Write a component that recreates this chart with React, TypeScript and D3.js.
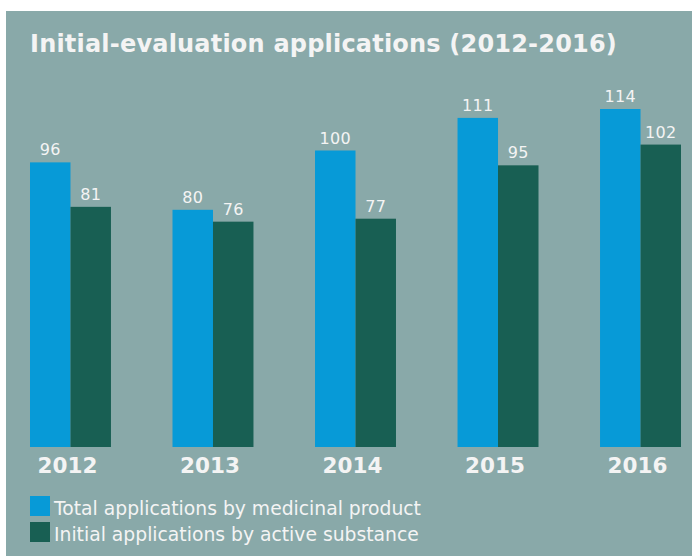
import React from "react";
import * as d3 from "d3";

const years = ["2012", "2013", "2014", "2015", "2016"];
const totalByProduct = [96, 80, 100, 111, 114];
const initialBySubstance = [81, 76, 77, 95, 102];
const seriesNames = ["Total applications by medicinal product", "Initial applications by active substance"];
const title = "Initial-evaluation applications (2012-2016)";

const W = 692;
const H = 558;
const BG = "#89a9a9";
const BLUE = "#079ad7";
const GREEN = "#185f53";
const TEXT = "#f4f4f4";
const FONT = "'DejaVu Sans', Verdana, sans-serif";

export default function App() {
  const x0 = d3.scaleBand<string>().domain(years).range([30, 681]).paddingInner(61.5 / 142.4).paddingOuter(0);
  const x1 = d3.scaleBand<string>().domain(["a", "b"]).range([0, x0.bandwidth()]);
  const y = d3.scaleLinear().domain([0, 114]).range([447, 109]);
  const series = [
    { key: "a", values: totalByProduct, color: BLUE },
    { key: "b", values: initialBySubstance, color: GREEN },
  ];
  return (
    <svg width={W} height={H} style={{ position: "absolute", left: 0, top: 0 }}>
      <rect x={6} y={11} width={W - 6} height={545} fill={BG} />
      <text x={30} y={52} fill={TEXT} fontFamily={FONT} fontWeight="bold" fontSize={24} letterSpacing={0.2}>{title}</text>
      {years.map((yr, i) => (
        <g key={yr} transform={`translate(${x0(yr)},0)`}>
          {series.map((s) => (
            <g key={s.key}>
              <rect x={x1(s.key)} y={y(s.values[i])} width={x1.bandwidth()} height={y(0) - y(s.values[i])} fill={s.color} />
              <text x={(x1(s.key) as number) + x1.bandwidth() / 2} y={y(s.values[i]) - 7} textAnchor="middle" fill={TEXT} fontFamily={FONT} fontSize={16} letterSpacing={0.4}>{s.values[i]}</text>
            </g>
          ))}
          <text x={x0.bandwidth() / 2 - 3} y={473} textAnchor="middle" fill={TEXT} fontFamily={FONT} fontWeight="bold" fontSize={21.5}>{yr}</text>
        </g>
      ))}
      {seriesNames.map((n, i) => (
        <g key={n} transform={`translate(30,${496 + i * 26})`}>
          <rect x={0} y={0} width={20} height={20} fill={i === 0 ? BLUE : GREEN} />
          <text x={24} y={19} fill={TEXT} fontFamily={FONT} fontSize={18.75}>{n}</text>
        </g>
      ))}
    </svg>
  );
}
